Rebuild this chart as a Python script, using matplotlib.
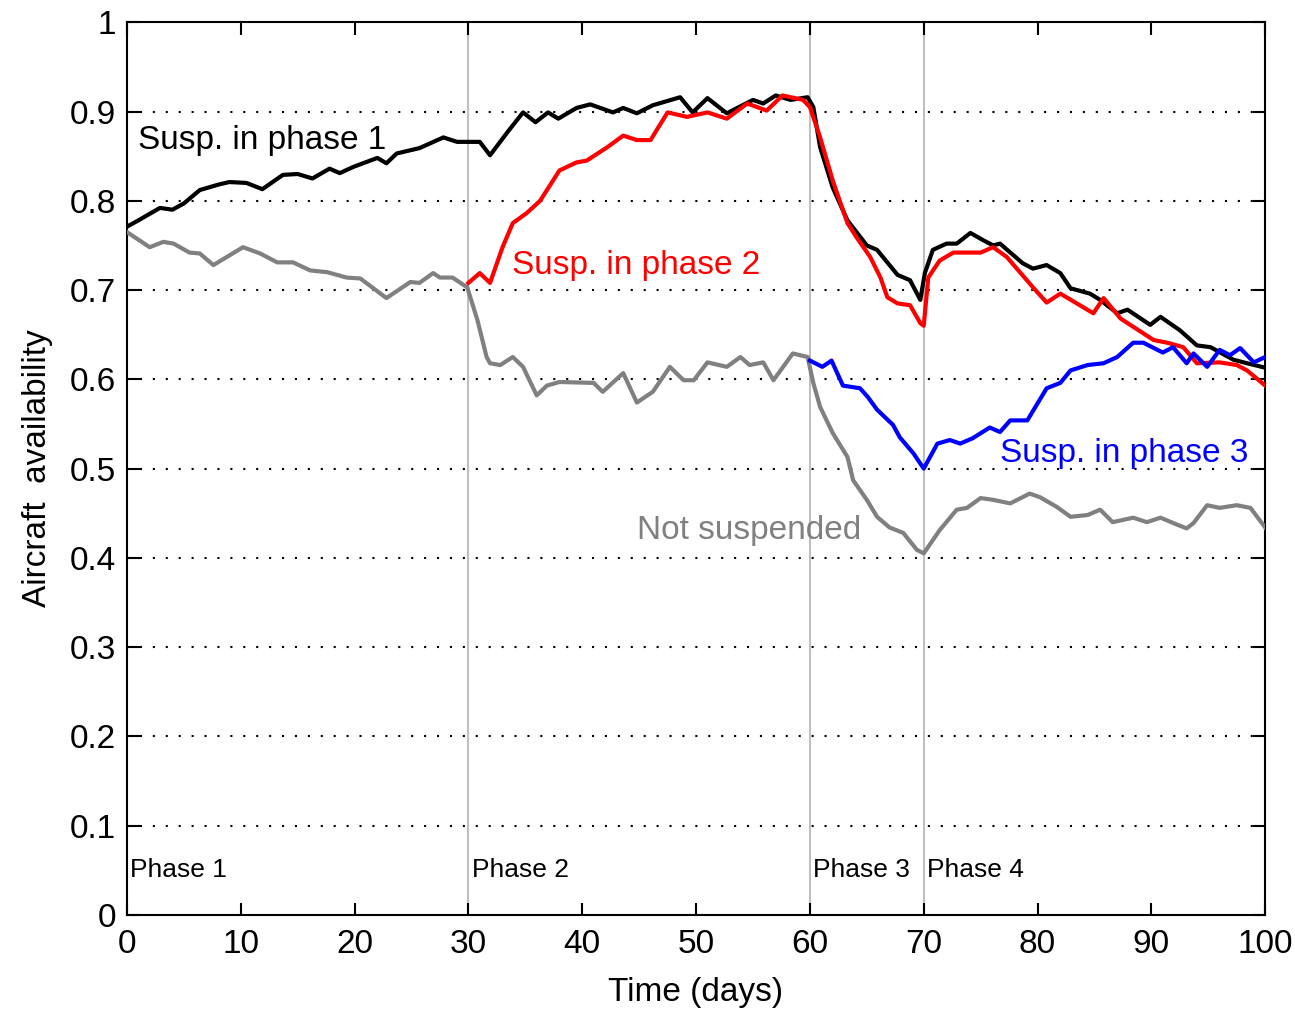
import matplotlib.pyplot as plt

# === DATOS === #
black_x = [0, 1, 2.9, 4, 5, 6.4, 8, 9, 10.5, 11.9, 13.7, 15, 16.3, 17.8, 18.7, 19.9,
           22, 22.8, 23.7, 25.7, 27.8, 29, 31, 31.9, 33.5, 34.8, 35.9, 37, 37.9, 39.5,
           40.7, 42.7, 43.6, 44.8, 46.2, 48.6, 49.7, 51, 52.7, 55, 55.9, 57, 58.3, 59.8,
           60.3, 60.9, 62, 63.3, 65, 65.9, 67.7, 68.8, 69.7, 70.1, 70.8, 72, 72.9, 74.1,
           75.2, 76.1, 76.7, 78.7, 79.6, 80.8, 82, 82.9, 84.6, 85.5, 87, 87.9, 89.9, 90.8,
           92.5, 94, 95.2, 97.2, 98.4, 100]
black_y = [0.771, 0.778, 0.792, 0.79, 0.797, 0.812, 0.818, 0.821, 0.82, 0.813, 0.829, 0.83,
           0.825, 0.836, 0.831, 0.838, 0.848, 0.842, 0.853, 0.859, 0.871, 0.866, 0.866,
           0.851, 0.878, 0.899, 0.888, 0.899, 0.892, 0.904, 0.908, 0.899, 0.904, 0.898,
           0.907, 0.916, 0.899, 0.915, 0.898, 0.913, 0.909, 0.918, 0.913, 0.916, 0.905,
           0.86, 0.815, 0.778, 0.75, 0.745, 0.717, 0.711, 0.689, 0.719, 0.745, 0.752,
           0.752, 0.764, 0.756, 0.75, 0.752, 0.73, 0.724, 0.728, 0.719, 0.702, 0.696,
           0.689, 0.674, 0.678, 0.661, 0.670, 0.655, 0.638, 0.636, 0.622, 0.618, 0.613]

red_x = [30, 31, 31.9, 33, 33.9, 35.1, 36.3, 38, 39.5, 40.4, 42.2, 43.6, 44.8, 46, 47.5,
         49.2, 51, 52.7, 54.5, 56.2, 57.6, 59.4, 60, 60.9, 62, 63.3, 64.1, 65.3, 66.2,
         66.8, 67.7, 68.8, 69.7, 70, 70.4, 71.4, 72.6, 75, 76.1, 77.3, 79.6, 80.8, 82,
         84.9, 85.8, 87.3, 90.2, 91.4, 92.8, 94, 96, 97.5, 98.4, 100]
red_y = [0.708, 0.719, 0.708, 0.748, 0.775, 0.786, 0.8, 0.834, 0.843, 0.845, 0.86, 0.873,
         0.868, 0.868, 0.899, 0.894, 0.899, 0.892, 0.909, 0.901, 0.918, 0.913, 0.905,
         0.871, 0.823, 0.775, 0.759, 0.737, 0.714, 0.692, 0.685, 0.683, 0.663, 0.66,
         0.714, 0.733, 0.742, 0.742, 0.748, 0.737, 0.703, 0.686, 0.696, 0.674, 0.691,
         0.668, 0.644, 0.641, 0.636, 0.618, 0.619, 0.616, 0.61, 0.593]

blue_x = [60, 61.1, 61.9, 62.9, 64.4, 65.1, 65.9, 67.3, 67.9, 69.1, 70, 71.2, 72.3, 73.2,
          74.3, 75.8, 76.7, 77.6, 79.1, 80.8, 82, 82.9, 84.4, 85.8, 87, 88.4, 89.3, 91,
          91.9, 93.1, 93.7, 94.9, 96, 96.9, 97.8, 99, 100]
blue_y = [0.621, 0.614, 0.621, 0.593, 0.59, 0.58, 0.566, 0.549, 0.535, 0.517, 0.5, 0.528,
          0.532, 0.528, 0.534, 0.546, 0.541, 0.554, 0.554, 0.59, 0.596, 0.61, 0.616,
          0.618, 0.625, 0.641, 0.641, 0.630, 0.636, 0.618, 0.629, 0.614, 0.633, 0.627,
          0.635, 0.619, 0.625]

gray_x = [0, 2, 3.2, 4.1, 5.5, 6.4, 7.6, 10.2, 11.7, 13.2, 14.6, 16.1, 17.6, 19.3, 20.5,
          22.8, 24.9, 25.7, 26.9, 27.5, 28.6, 29.9, 30.8, 31.6, 31.9, 32.8, 33.9, 34.8,
          36, 36.9, 38, 41, 41.8, 43.6, 44.8, 46.2, 47.7, 48.9, 49.8, 51, 52.7, 53.9,
          54.7, 55.9, 56.8, 58.5, 59.8, 60.3, 60.9, 62, 63.3, 63.8, 65, 65.9, 67, 68.2,
          69.4, 70, 71.4, 72.9, 73.8, 75, 76.1, 77.6, 79.3, 80.2, 81.7, 82.9, 84.4, 85.5,
          86.6, 88.4, 89.6, 90.8, 92.3, 93.1, 93.7, 94.9, 96, 97.5, 98.7, 100]
gray_y = [0.765, 0.748, 0.754, 0.752, 0.742, 0.741, 0.728, 0.748, 0.741, 0.731, 0.731,
          0.722, 0.72, 0.714, 0.713, 0.691, 0.709, 0.708, 0.719, 0.714, 0.714, 0.703,
          0.666, 0.625, 0.618, 0.616, 0.625, 0.614, 0.582, 0.593, 0.597, 0.596, 0.586,
          0.607, 0.574, 0.586, 0.614, 0.599, 0.599, 0.619, 0.614, 0.625, 0.616, 0.619,
          0.599, 0.629, 0.625, 0.596, 0.569, 0.54, 0.513, 0.487, 0.465, 0.446, 0.434,
          0.428, 0.409, 0.405, 0.431, 0.454, 0.456, 0.467, 0.465, 0.461, 0.472, 0.468,
          0.457, 0.446, 0.448, 0.454, 0.44, 0.445, 0.44, 0.445, 0.437, 0.433, 0.439,
          0.459, 0.456, 0.459, 0.456, 0.434]

phase_limits = [30, 60, 70]
phase_names = ["Phase 1", "Phase 2", "Phase 3", "Phase 4"]
phase_starts = [0, 30, 60, 70]

x_ticks = list(range(0, 101, 10))
y_ticks = [0, 0.1, 0.2, 0.3, 0.4, 0.5, 0.6, 0.7, 0.8, 0.9, 1]
y_tick_labels = ["0", "0.1", "0.2", "0.3", "0.4", "0.5", "0.6", "0.7", "0.8", "0.9", "1"]

# === GRAFICO === #
plt.rcParams["font.family"] = ["Liberation Sans", "DejaVu Sans"]

fig = plt.figure(figsize=(12.95, 10.11), dpi=100)
ax = fig.add_axes([0.098, 0.095, 0.879, 0.883])

# rejilla horizontal punteada
for yv in y_ticks[1:-1]:
    ax.axhline(yv, color="black", lw=1.5, linestyle=(0, (1, 5.2)), zorder=1)

for xv in phase_limits:
    ax.axvline(xv, color="#c0c0c0", lw=1.5, zorder=1)

ax.plot(gray_x, gray_y, color="#808080", lw=3, zorder=3)
ax.plot(black_x, black_y, color="black", lw=3, zorder=4)
ax.plot(red_x, red_y, color="#ff0000", lw=3, zorder=5)
ax.plot(blue_x, blue_y, color="#0000ff", lw=3, zorder=6)

ax.text(1, 0.868, "Susp. in phase 1", color="black", fontsize=24, va="center")
ax.text(33.8, 0.728, "Susp. in phase 2", color="#ff0000", fontsize=24, va="center")
ax.text(76.7, 0.517, "Susp. in phase 3", color="#0000ff", fontsize=24, va="center")
ax.text(44.8, 0.431, "Not suspended", color="#808080", fontsize=24, va="center")

for xs, name in zip(phase_starts, phase_names):
    ax.text(xs + 0.3, 0.05, name, color="black", fontsize=19, va="center")

ax.set_xlim(0, 100)
ax.set_ylim(0, 1)
ax.set_xticks(x_ticks)
ax.set_yticks(y_ticks)
ax.set_yticklabels(y_tick_labels)
ax.tick_params(direction="in", length=9, width=1.5, labelsize=24,
               top=True, right=True, pad=10)
ax.tick_params(axis="y", pad=8)
for s in ax.spines.values():
    s.set_linewidth(1.5)

ax.set_xlabel("Time (days)", fontsize=24, labelpad=12)
ax.set_ylabel("Aircraft  availability", fontsize=24, labelpad=12)

plt.savefig("out.png", dpi=100)
plt.close()
